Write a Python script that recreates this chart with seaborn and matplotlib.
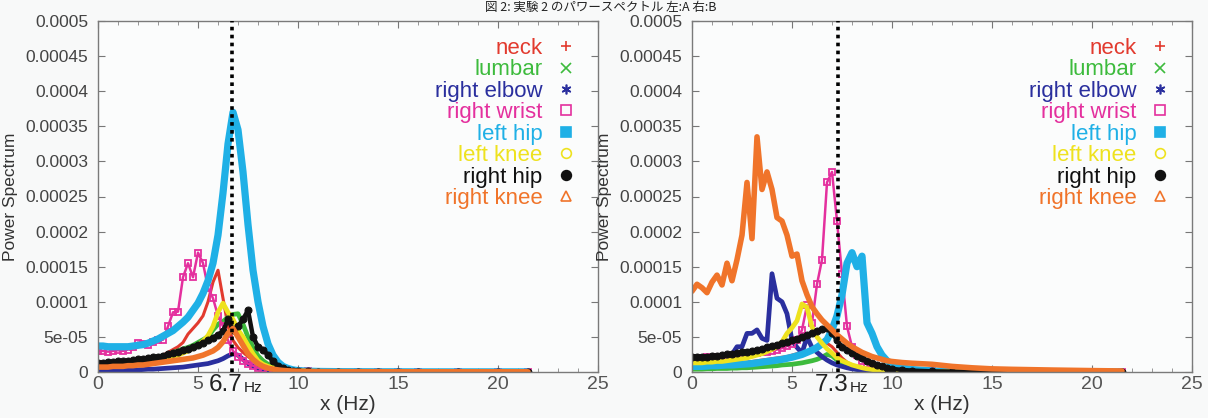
import numpy as np
import pandas as pd
import matplotlib
matplotlib.use("Agg")
import matplotlib.pyplot as plt
from matplotlib.ticker import MultipleLocator
from matplotlib.lines import Line2D
from matplotlib.transforms import blended_transform_factory
import seaborn as sns

# ---------------- data (power in units of 1e-5) ----------------
freq = [0, 0.25, 0.5, 0.75, 1, 1.25, 1.5, 1.75, 2, 2.25, 2.5, 2.75, 3, 3.25, 3.5, 3.75,
        4, 4.25, 4.5, 4.75, 5, 5.25, 5.5, 5.75, 6, 6.25, 6.5, 6.75, 7, 7.25, 7.5, 7.75,
        8, 8.25, 8.5, 8.75, 9, 9.25, 9.5, 9.75, 10,
        10.5, 11, 12, 13, 14, 15, 16, 18, 20, 21.5]

joints = ["neck", "lumbar", "right elbow", "right wrist", "left hip", "left knee", "right hip", "right knee"]

# Panel A (peak 6.7 Hz)
a_neck = [1.4, 1.4, 1.4, 1.5, 1.5, 1.5, 1.6, 1.6, 1.7, 1.8, 1.9, 2.0, 2.2, 2.4, 2.8, 3.2,
          3.6, 4.2, 5.4, 6.2, 7.0, 8.0, 10.0, 12.8, 14.5, 10.5, 6.5, 4.5, 3.5, 2.8, 2.2, 1.7,
          1.3, 1.0, 0.8, 0.6, 0.45, 0.35, 0.28, 0.22, 0.18,
          0.12, 0.09, 0.06, 0.05, 0.04, 0.03, 0.03, 0.02, 0.02, 0.02]
a_lumbar = [1.0, 1.0, 1.0, 1.1, 1.1, 1.2, 1.3, 1.4, 1.5, 1.6, 1.7, 1.9, 2.0, 2.2, 2.5, 2.8,
            3.0, 3.3, 3.5, 3.8, 4.2, 4.6, 5.0, 6.0, 6.8, 7.2, 7.8, 8.2, 8.3, 6.8, 5.0, 3.5,
            2.3, 1.6, 1.1, 0.8, 0.55, 0.4, 0.3, 0.22, 0.17,
            0.12, 0.09, 0.06, 0.05, 0.04, 0.03, 0.03, 0.02, 0.02, 0.02]
a_elbow = [0.2, 0.2, 0.2, 0.2, 0.25, 0.25, 0.3, 0.3, 0.3, 0.35, 0.4, 0.4, 0.45, 0.5, 0.55, 0.6,
           0.65, 0.7, 0.8, 0.9, 1.0, 1.1, 1.2, 1.4, 1.6, 1.9, 2.3, 2.6, 2.4, 1.8, 1.2, 0.8,
           0.5, 0.35, 0.25, 0.2, 0.15, 0.12, 0.1, 0.08, 0.07,
           0.05, 0.04, 0.03, 0.03, 0.02, 0.02, 0.02, 0.02, 0.02, 0.02]
a_wrist = [3.0, 3.0, 2.9, 3.0, 3.1, 3.0, 3.2, 3.5, 4.2, 4.0, 3.9, 4.3, 4.5, 4.6, 6.5, 8.5,
           8.6, 13.5, 15.5, 13.5, 17.0, 15.5, 12.0, 10.5, 8.0, 6.5, 4.5, 3.0, 2.2, 1.6, 1.2, 0.9,
           0.6, 0.45, 0.35, 0.28, 0.22, 0.18, 0.15, 0.12, 0.1,
           0.08, 0.06, 0.05, 0.04, 0.03, 0.03, 0.02, 0.02, 0.02, 0.02]
a_lhip = [3.7, 3.7, 3.6, 3.6, 3.6, 3.6, 3.6, 3.7, 3.8, 3.9, 4.1, 4.4, 4.7, 5.1, 5.5, 5.9,
          6.5, 7.1, 7.8, 8.8, 9.8, 11.2, 13.0, 15.5, 19.5, 25.5, 32.5, 37.0, 34.5, 28.5, 21.0, 14.5,
          10.0, 6.5, 4.0, 2.4, 1.4, 0.8, 0.5, 0.3, 0.2,
          0.12, 0.08, 0.05, 0.04, 0.03, 0.03, 0.02, 0.02, 0.02, 0.02]
a_lknee = [0.8, 0.8, 0.8, 0.9, 0.9, 1.0, 1.0, 1.1, 1.2, 1.3, 1.4, 1.5, 1.6, 1.8, 2.0, 2.2,
           2.4, 2.7, 3.0, 3.4, 3.8, 4.4, 5.2, 6.5, 8.5, 9.8, 8.5, 7.5, 6.0, 5.0, 3.8, 2.6,
           1.6, 1.1, 0.8, 0.6, 0.45, 0.35, 0.28, 0.22, 0.18,
           0.12, 0.09, 0.06, 0.05, 0.04, 0.03, 0.03, 0.02, 0.02, 0.02]
a_rhip = [1.3, 1.3, 1.4, 1.4, 1.5, 1.5, 1.6, 1.7, 1.8, 1.9, 2.0, 2.1, 2.2, 2.3, 2.5, 2.7,
          2.9, 3.1, 3.3, 3.6, 3.9, 4.1, 4.5, 4.9, 5.3, 5.8, 7.5, 6.0, 6.5, 7.5, 8.8, 5.0,
          3.6, 3.2, 2.4, 1.5, 0.9, 0.5, 0.3, 0.2, 0.15,
          0.1, 0.07, 0.05, 0.04, 0.03, 0.03, 0.02, 0.02, 0.02, 0.02]
a_rknee = [0.7, 0.7, 0.7, 0.8, 0.8, 0.8, 0.9, 0.9, 1.0, 1.0, 1.1, 1.2, 1.3, 1.4, 1.5, 1.6,
           1.7, 1.8, 1.9, 2.0, 2.2, 2.4, 2.7, 3.0, 3.5, 4.3, 5.5, 6.2, 5.0, 3.8, 2.6, 1.8,
           1.2, 0.8, 0.55, 0.4, 0.3, 0.22, 0.17, 0.13, 0.1,
           0.08, 0.06, 0.05, 0.04, 0.04, 0.03, 0.03, 0.03, 0.03, 0.03]

# Panel B (peak 7.3 Hz)
b_neck = [1.0, 1.0, 1.0, 1.05, 1.1, 1.1, 1.15, 1.2, 1.25, 1.3, 1.35, 1.4, 1.5, 1.6, 1.7, 1.8,
          1.9, 2.0, 2.1, 2.2, 2.4, 2.6, 2.8, 3.0, 3.3, 3.6, 3.9, 4.1, 3.6, 2.8, 2.0, 1.4,
          1.0, 0.75, 0.55, 0.42, 0.33, 0.26, 0.2, 0.16, 0.13,
          0.09, 0.07, 0.05, 0.04, 0.03, 0.03, 0.02, 0.02, 0.02, 0.02]
b_lumbar = [0.4, 0.4, 0.4, 0.45, 0.45, 0.5, 0.5, 0.5, 0.55, 0.55, 0.6, 0.6, 0.65, 0.7, 0.75, 0.8,
            0.85, 0.9, 1.0, 1.05, 1.1, 1.2, 1.3, 1.45, 1.6, 1.8, 2.1, 2.5, 2.3, 1.7, 1.2, 0.8,
            0.55, 0.4, 0.3, 0.22, 0.17, 0.13, 0.1, 0.08, 0.07,
            0.05, 0.04, 0.03, 0.03, 0.02, 0.02, 0.02, 0.02, 0.02, 0.02]
b_elbow = [1.8, 1.8, 1.9, 1.9, 2.0, 2.0, 2.1, 2.2, 2.5, 3.6, 3.6, 5.5, 5.5, 6.0, 4.8, 4.5,
           14.0, 10.5, 10.0, 8.3, 4.5, 3.5, 2.7, 5.0, 3.5, 2.8, 2.2, 1.7, 1.3, 1.0, 0.8, 0.6,
           0.45, 0.35, 0.28, 0.22, 0.18, 0.15, 0.12, 0.1, 0.09,
           0.07, 0.05, 0.04, 0.03, 0.03, 0.02, 0.02, 0.02, 0.02, 0.02]
b_wrist = [2.0, 1.9, 2.0, 2.1, 2.0, 2.1, 2.2, 2.2, 2.3, 2.4, 2.4, 2.5, 2.6, 2.7, 2.8, 2.9,
           3.0, 3.2, 3.4, 3.7, 4.0, 4.5, 6.0, 9.5, 7.0, 12.5, 16.0, 27.0, 28.5, 21.5, 14.0, 6.5,
           3.6, 2.4, 1.6, 1.1, 0.8, 0.6, 0.45, 0.35, 0.28,
           0.2, 0.15, 0.1, 0.07, 0.05, 0.04, 0.03, 0.02, 0.02, 0.02]
b_lhip = [0.8, 0.8, 0.8, 0.85, 0.9, 0.9, 0.95, 1.0, 1.0, 1.05, 1.1, 1.15, 1.2, 1.3, 1.4, 1.5,
          1.6, 1.7, 1.8, 1.95, 2.1, 2.3, 2.5, 2.8, 3.1, 3.5, 4.0, 4.6, 6.0, 8.0, 11.0, 15.5,
          17.0, 15.0, 16.5, 7.0, 5.5, 3.6, 2.4, 1.6, 1.1,
          0.6, 0.35, 0.15, 0.08, 0.05, 0.04, 0.03, 0.02, 0.02, 0.02]
b_lknee = [1.3, 1.3, 1.3, 1.4, 1.4, 1.5, 1.5, 1.6, 1.7, 1.8, 1.9, 2.0, 2.2, 2.4, 2.6, 2.9,
           3.2, 3.6, 4.3, 5.5, 6.3, 7.3, 9.7, 9.2, 6.4, 5.0, 4.1, 3.3, 2.7, 2.0, 1.6, 1.3,
           1.0, 0.8, 0.6, 0.45, 0.35, 0.28, 0.22, 0.18, 0.15,
           0.1, 0.08, 0.05, 0.04, 0.03, 0.03, 0.02, 0.02, 0.02, 0.02]
b_rhip = [2.2, 2.2, 2.2, 2.2, 2.3, 2.3, 2.4, 2.5, 2.6, 2.7, 2.8, 2.9, 3.0, 3.1, 3.3, 3.5,
          3.7, 3.9, 4.1, 4.3, 4.5, 4.7, 5.0, 5.2, 5.5, 5.8, 6.1, 6.2, 5.6, 4.5, 3.6, 3.2,
          2.7, 2.3, 2.0, 1.6, 1.3, 1.0, 0.8, 0.6, 0.45,
          0.3, 0.2, 0.1, 0.06, 0.04, 0.03, 0.03, 0.02, 0.02, 0.02]
b_rknee = [11.5, 12.5, 12.0, 11.3, 12.8, 13.8, 12.4, 15.5, 13.0, 16.0, 19.5, 27.0, 19.0, 33.5, 26.0, 28.5,
           26.0, 22.0, 21.5, 19.5, 16.5, 16.8, 13.0, 11.0, 9.3, 8.3, 7.4, 6.7, 6.0, 5.3, 4.7, 4.1,
           3.6, 3.2, 2.8, 2.5, 2.2, 2.0, 1.8, 1.6, 1.5,
           1.35, 1.25, 1.1, 0.8, 0.6, 0.45, 0.38, 0.28, 0.2, 0.15]

panel_a = [a_neck, a_lumbar, a_elbow, a_wrist, a_lhip, a_lknee, a_rhip, a_rknee]
panel_b = [b_neck, b_lumbar, b_elbow, b_wrist, b_lhip, b_lknee, b_rhip, b_rknee]
peaks = [6.7, 7.3]
peak_labels = ["6.7", "7.3"]
scale = 1e-5

xticks = [0, 5, 10, 15, 20, 25]
xtick_labels = ["0", "5", "10", "15", "20", "25"]
yticks = [0, 5e-5, 1e-4, 1.5e-4, 2e-4, 2.5e-4, 3e-4, 3.5e-4, 4e-4, 4.5e-4, 5e-4]
ytick_labels = ["0", "5e-05", "0.0001", "0.00015", "0.0002", "0.00025", "0.0003",
                "0.00035", "0.0004", "0.00045", "0.0005"]
title = "図 2: 実験 2 のパワースペクトル 左:A 右:B"

# ---------------- style ----------------
colors = ["#e23a2e", "#3dbb3d", "#2a2f9e", "#e4309e", "#1fb0e6", "#eee21e", "#111111", "#f0742a"]
legend_markers = ["+", "x", (6, 2, 0), "s", "s", "o", "o", "^"]
legend_filled = [True, True, True, False, True, False, True, False]
line_widths = [2.2, 3.4, 3.4, 1.8, 5.2, 3.4, 3.2, 4.0]
line_markers = [None, None, None, "s", None, None, "o", None]

sns.set_theme(style="ticks")
plt.rcParams["font.family"] = ["Liberation Sans", "DejaVu Sans"]

bg = "#f8f9f9"
top_px, bottom_px = 21, 372
fig = plt.figure(figsize=(12.08, 4.18), dpi=100, facecolor=bg)
ax_a = fig.add_axes([98 / 1208, 1 - bottom_px / 418, 500 / 1208, (bottom_px - top_px) / 418])
ax_b = fig.add_axes([692 / 1208, 1 - bottom_px / 418, 500 / 1208, (bottom_px - top_px) / 418])

for ax, panel, peak, plabel in zip([ax_a, ax_b], [panel_a, panel_b], peaks, peak_labels):
    ax.set_facecolor("#fbfcfc")
    for name, vals, c, lw, mk in zip(joints, panel, colors, line_widths, line_markers):
        df = pd.DataFrame({"x": freq, "y": np.array(vals) * scale})
        kw = {}
        if mk == "s":
            kw = dict(marker="s", markersize=5, markerfacecolor="none",
                      markeredgecolor=c, markeredgewidth=1.3)
        elif mk == "o":
            kw = dict(marker="o", markersize=5, markerfacecolor=c, markeredgecolor=c)
        sns.lineplot(data=df, x="x", y="y", ax=ax, color=c, linewidth=lw,
                     estimator=None, legend=False, **kw)
    ax.axvline(peak, color="black", linestyle=(0, (1, 1.2)), linewidth=2.6, zorder=5)

    ax.set_xlim(0, 25)
    ax.set_ylim(0, 5e-4)
    ax.set_xticks(xticks)
    ax.set_xticklabels(xtick_labels, fontsize=14, color="#555555")
    ax.set_yticks(yticks)
    ax.set_yticklabels(ytick_labels, fontsize=12.5, color="#444444")
    ax.xaxis.set_minor_locator(MultipleLocator(1))
    ax.tick_params(axis="both", which="major", direction="in", top=True, right=True,
                   length=5, width=0.8, color="#777777")
    ax.tick_params(axis="x", which="major", pad=3)
    ax.tick_params(axis="y", which="major", pad=7)
    ax.tick_params(axis="x", which="minor", direction="in", top=True, bottom=True,
                   length=3, width=0.6, color="#888888")
    for s in ax.spines.values():
        s.set_color("#7a7a7a")
        s.set_linewidth(1.0)
    ax.set_xlabel("x (Hz)", fontsize=15, color="#333333", labelpad=1)
    ax.set_ylabel("Power Spectrum", fontsize=12.5, color="#333333", labelpad=5)

    tr = blended_transform_factory(ax.transData, ax.transAxes)
    ax.text(peak + 0.55, -0.036, plabel, transform=tr, ha="right", va="center",
            fontsize=17.5, color="#222222")
    ax.text(peak + 0.6, -0.046, "Hz", transform=tr, ha="left", va="center",
            fontsize=11, color="#222222")

    handles = [Line2D([], [], linestyle="none", marker=m, markersize=7,
                      color=c, markerfacecolor=(c if f else "none"), markeredgewidth=1.2)
               for m, c, f in zip(legend_markers, colors, legend_filled)]
    ax.legend(handles, joints, loc="upper right", bbox_to_anchor=(0.985, 0.99),
              markerfirst=False, frameon=False, fontsize=16, labelcolor=colors,
              handlelength=1.0, handletextpad=0.55, labelspacing=0.02, borderaxespad=0.2)

fig.text(0.497, 0.999, title, ha="center", va="top", fontsize=9, color="#222222",
         family=["Noto Sans CJK JP", "DejaVu Sans"])

fig.savefig("out.png", dpi=100, facecolor=bg)
